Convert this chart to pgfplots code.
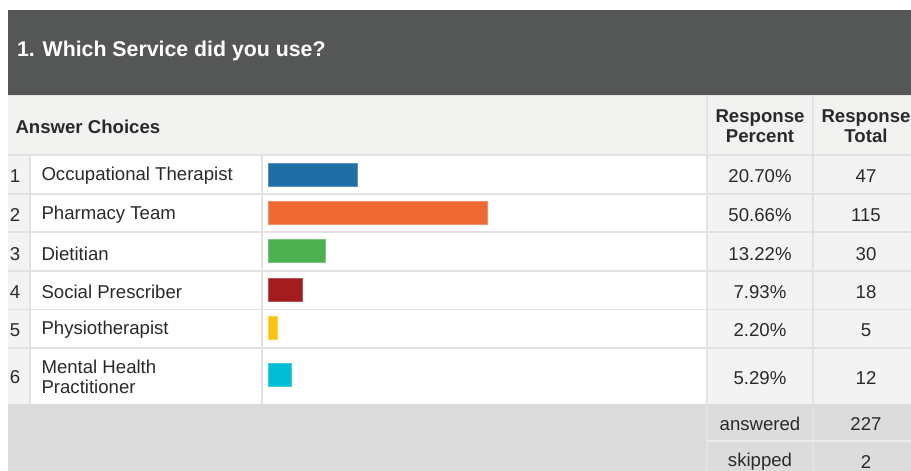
\documentclass[border=0pt]{standalone}
\usepackage{pgfplots}
\pgfplotsset{compat=1.18}
\usepackage{fontspec}
\setmainfont{Liberation Sans}
\definecolor{hdr}{HTML}{555756}
\definecolor{hrow}{HTML}{F2F2F1}
\definecolor{cellg}{HTML}{F3F3F3}
\definecolor{botg}{HTML}{DCDCDC}
\definecolor{sep}{HTML}{E2E2E2}
\definecolor{txt}{HTML}{2A2A2A}
\definecolor{cA}{HTML}{1F6EA5}
\definecolor{cB}{HTML}{F06A35}
\definecolor{cC}{HTML}{4CAF50}
\definecolor{cD}{HTML}{A21C20}
\definecolor{cE}{HTML}{FFC20E}
\definecolor{cF}{HTML}{00BCD4}
\newcommand{\rf}{\fontsize{18.6bp}{21bp}\selectfont}
\begin{document}
\begin{tikzpicture}
\begin{axis}[scale only axis, width=911bp, height=471bp, at={(0,0)}, anchor=south west,
  xmin=0, xmax=911, ymin=0, ymax=471, y dir=reverse, hide axis, clip=false]
\fill[white] (axis cs:0,0) rectangle (axis cs:911,471);
\fill[hdr] (axis cs:8,10) rectangle (axis cs:911,95);
\fill[hrow] (axis cs:8,95) rectangle (axis cs:911,155);
\fill[cellg] (axis cs:8,155) rectangle (axis cs:30,404);
\fill[cellg] (axis cs:707,155) rectangle (axis cs:911,404);
\fill[botg] (axis cs:8,404) rectangle (axis cs:911,471);
\draw[sep, line width=1.6bp] (axis cs:8,95.5) -- (axis cs:911,95.5);
\draw[sep, line width=1.8bp] (axis cs:8,155) -- (axis cs:911,155);
\draw[sep, line width=1.8bp] (axis cs:8,194) -- (axis cs:911,194);
\draw[sep, line width=1.8bp] (axis cs:8,232) -- (axis cs:911,232);
\draw[sep, line width=1.8bp] (axis cs:8,271) -- (axis cs:911,271);
\draw[sep, line width=1.8bp] (axis cs:8,309.5) -- (axis cs:911,309.5);
\draw[sep, line width=1.8bp] (axis cs:8,348) -- (axis cs:911,348);
\draw[sep, line width=1.8bp] (axis cs:30,155) -- (axis cs:30,404);
\draw[sep, line width=1.8bp] (axis cs:262,155) -- (axis cs:262,404);
\draw[sep, line width=1.8bp] (axis cs:707,95) -- (axis cs:707,471);
\draw[sep, line width=1.8bp] (axis cs:813,95) -- (axis cs:813,471);
\draw[white!92!black, line width=1.6bp] (axis cs:707,441) -- (axis cs:911,441);
% title
\node[anchor=west, white, font=\bfseries\fontsize{21.3bp}{24bp}\selectfont] at (axis cs:13.5,51) {1. Which Service did you use?};
% header row
\node[anchor=west, txt, font=\bfseries\rf] at (axis cs:12,127) {Answer Choices};
\node[txt, font=\bfseries\rf, align=center] at (axis cs:760,126) {Response\\[-1bp]Percent};
\node[txt, font=\bfseries\rf, align=center] at (axis cs:866,126) {Response\\[-1bp]Total};
% rows
\node[txt, font=\rf] at (axis cs:15,176) {1};
\node[anchor=west, txt, font=\rf] at (axis cs:38,176) {Occupational Therapist};
\node[txt, font=\rf] at (axis cs:760,176) {20.70\%};
\node[txt, font=\rf] at (axis cs:866,176) {47};
\node[txt, font=\rf] at (axis cs:15,215) {2};
\node[anchor=west, txt, font=\rf] at (axis cs:38,215) {Pharmacy Team};
\node[txt, font=\rf] at (axis cs:760,215) {50.66\%};
\node[txt, font=\rf] at (axis cs:866,215) {115};
\node[txt, font=\rf] at (axis cs:15,254) {3};
\node[anchor=west, txt, font=\rf] at (axis cs:38,254) {Dietitian};
\node[txt, font=\rf] at (axis cs:760,254) {13.22\%};
\node[txt, font=\rf] at (axis cs:866,254) {30};
\node[txt, font=\rf] at (axis cs:15,292) {4};
\node[anchor=west, txt, font=\rf] at (axis cs:38,292) {Social Prescriber};
\node[txt, font=\rf] at (axis cs:760,292) {7.93\%};
\node[txt, font=\rf] at (axis cs:866,292) {18};
\node[txt, font=\rf] at (axis cs:15,330) {5};
\node[anchor=west, txt, font=\rf] at (axis cs:38,330) {Physiotherapist};
\node[txt, font=\rf] at (axis cs:760,330) {2.20\%};
\node[txt, font=\rf] at (axis cs:866,330) {5};
\node[txt, font=\rf] at (axis cs:15,377) {6};
\node[anchor=west, txt, font=\rf, align=left] at (axis cs:38,377) {Mental Health\\[-1bp]Practitioner};
\node[txt, font=\rf] at (axis cs:760,378) {5.29\%};
\node[txt, font=\rf] at (axis cs:866,378) {12};
\node[txt, font=\rf] at (axis cs:760,424) {answered};
\node[txt, font=\rf] at (axis cs:866,424) {227};
\node[txt, font=\rf] at (axis cs:760,462) {skipped};
\node[txt, font=\rf] at (axis cs:866,462) {2};
\end{axis}
\begin{axis}[scale only axis, width=433bp, height=471bp, at={(268bp,0)}, anchor=south west,
  xmin=0, xmax=100, ymin=0, ymax=471, y dir=reverse, hide axis, clip=false,
  xbar, bar width=23, every axis plot/.append style={bar shift=0pt, line width=0.8bp}]
\addplot[fill=cA, draw=cA!75!white] coordinates {(20.70,174.5)};
\addplot[fill=cB, draw=cB!75!white] coordinates {(50.66,212.5)};
\addplot[fill=cC, draw=cC!75!white] coordinates {(13.22,251)};
\addplot[fill=cD, draw=cD!75!white] coordinates {(7.93,289.5)};
\addplot[fill=cE, draw=cE!75!white] coordinates {(2.20,327.5)};
\addplot[fill=cF, draw=cF!75!white] coordinates {(5.29,375)};
\end{axis}
\pgfresetboundingbox
\useasboundingbox (0,0) rectangle (911bp,471bp);
\end{tikzpicture}
\end{document}
